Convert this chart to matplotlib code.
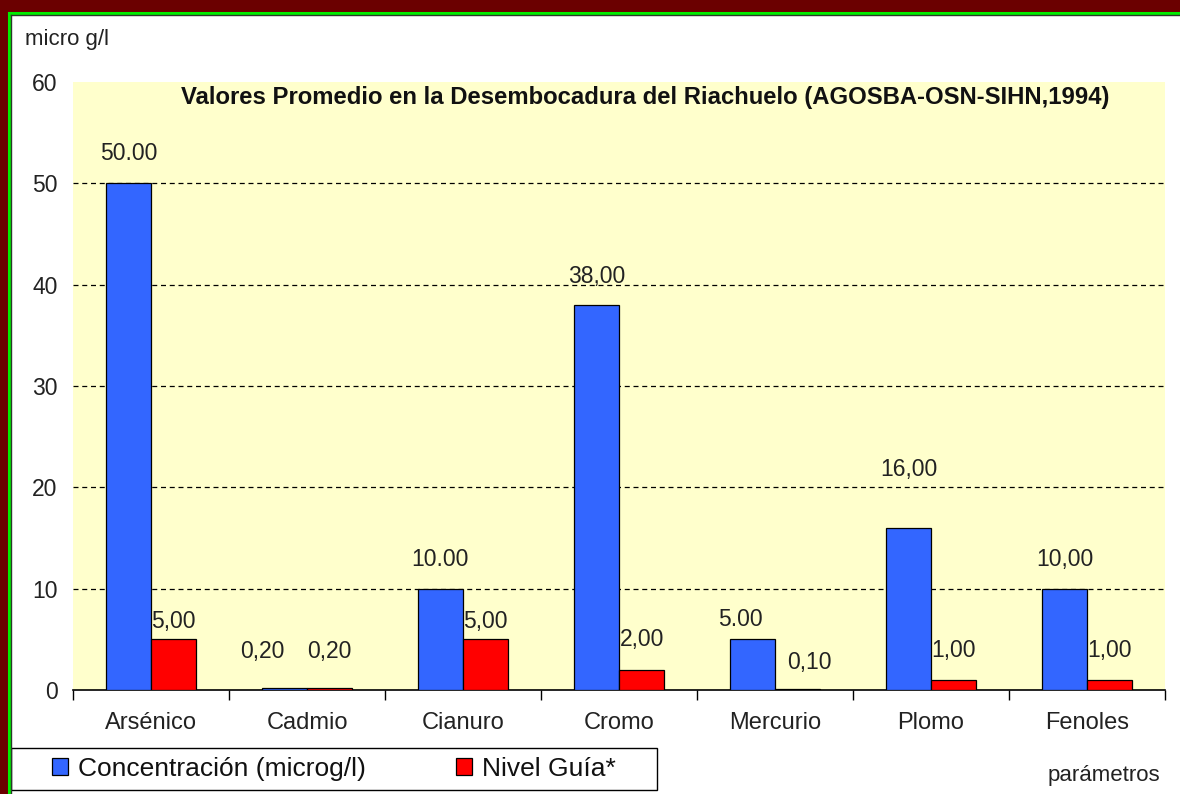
import matplotlib.pyplot as plt
from matplotlib.patches import Rectangle
from matplotlib.lines import Line2D

# data
categories = ["Arsénico", "Cadmio", "Cianuro", "Cromo", "Mercurio", "Plomo", "Fenoles"]
concentracion = [50.0, 0.2, 10.0, 38.0, 5.0, 16.0, 10.0]
nivel_guia = [5.0, 0.2, 5.0, 2.0, 0.1, 1.0, 1.0]
conc_labels = ["50.00", "0,20", "10.00", "38,00", "5.00", "16,00", "10,00"]
guia_labels = ["5,00", "0,20", "5,00", "2,00", "0,10", "1,00", "1,00"]
yticks = [0, 10, 20, 30, 40, 50, 60]

# label offsets in pixels (dx, dy) above the bar tops
conc_off = [(0, 30), (-22, 36), (0, 29), (0, 28), (-12, 20), (0, 58), (0, 29)]
guia_off = [(0, 18), (0, 36), (0, 18), (0, 30), (12, 26), (0, 29), (0, 29)]

W, H = 1180, 794
fig = plt.figure(figsize=(W / 100, H / 100), dpi=100)
plt.rcParams["font.family"] = ["Liberation Sans", "DejaVu Sans"]
txt = "#222222"

# frame around the slide
fig.patches.append(Rectangle((0, 1 - 11 / H), 1, 11 / H, transform=fig.transFigure, color="#6b0000", zorder=0))
fig.patches.append(Rectangle((0, 0), 7 / W, 1, transform=fig.transFigure, color="#6b0000", zorder=0))
fig.add_artist(Line2D([8.5 / W, 1], [1 - 12.5 / H, 1 - 12.5 / H], color="#00ee00", lw=2.2))
fig.add_artist(Line2D([8.5 / W, 8.5 / W], [0, 1 - 12.5 / H], color="#00ee00", lw=2.2))
fig.add_artist(Line2D([10.8 / W, 1], [1 - 14.5 / H, 1 - 14.5 / H], color="#2a3a2a", lw=1))
fig.add_artist(Line2D([10.8 / W, 10.8 / W], [0, 1 - 14.5 / H], color="#2a3a2a", lw=1))

ax = fig.add_axes([73 / W, 1 - 690 / H, (1165 - 73) / W, (690 - 82) / H])
ax.set_facecolor("#ffffcc")

x = list(range(len(categories)))
bw = 0.29
b1 = ax.bar([i - bw / 2 for i in x], concentracion, bw, color="#3366ff", edgecolor="black", linewidth=0.9,
            label="Concentración (microg/l)", zorder=3)
b2 = ax.bar([i + bw / 2 for i in x], nivel_guia, bw, color="#ff0000", edgecolor="black", linewidth=0.9,
            label="Nivel Guía*", zorder=3)

for bars, labs, offs in [(b1, conc_labels, conc_off), (b2, guia_labels, guia_off)]:
    for rect, lab, (dx, dy) in zip(bars, labs, offs):
        ax.annotate(lab, (rect.get_x() + rect.get_width() / 2, rect.get_height()),
                    xytext=(dx * 0.72, dy * 0.72), textcoords="offset points",
                    ha="center", va="center", fontsize=16.5, color=txt)

ax.set_xlim(-0.5, len(categories) - 0.5)
ax.set_ylim(0, 60)
ax.set_yticks(yticks)
ax.set_xticks(x)
ax.set_xticklabels(categories, fontsize=17, color=txt)
ax.set_xticks([i - 0.5 for i in range(len(categories) + 1)], minor=True)
ax.tick_params(axis="x", which="major", length=0, pad=16)
ax.tick_params(axis="x", which="minor", length=7, width=1, direction="out", color="black")
ax.tick_params(axis="y", length=0, pad=11, labelsize=16.5, labelcolor=txt)
for s in ["left", "right", "top"]:
    ax.spines[s].set_visible(False)
ax.spines["bottom"].set_linewidth(1.2)

for v in yticks[1:-1]:
    ax.axhline(v, color="black", lw=0.9, ls=(0, (4, 3)), zorder=1)

ax.text(0.524, 0.975, "Valores Promedio en la Desembocadura del Riachuelo (AGOSBA-OSN-SIHN,1994)",
        transform=ax.transAxes, ha="center", va="center", fontsize=17.2, fontweight="bold", color="#111111")

fig.text(25 / W, 1 - 40 / H, "micro g/l", fontsize=16, color=txt, va="center")
fig.text(1104 / W, 1 - 775 / H, "parámetros", fontsize=16, color=txt, va="center", ha="center")

# legend box along the lower left edge
fig.patches.append(Rectangle((11 / W, 4 / H), (657 - 11) / W, 42 / H, transform=fig.transFigure,
                             facecolor="white", edgecolor="black", lw=1, zorder=1))
leg = fig.legend(handles=[b1, b2], loc="center left", ncol=2, frameon=False,
                 bbox_to_anchor=(52 / W, 25 / H), borderaxespad=0, borderpad=0,
                 fontsize=19, handlelength=0.6, handleheight=0.6, handletextpad=0.4,
                 columnspacing=3.4)
for t in leg.get_texts():
    t.set_color("#111111")

fig.savefig("out.png", dpi=100, facecolor="white")
